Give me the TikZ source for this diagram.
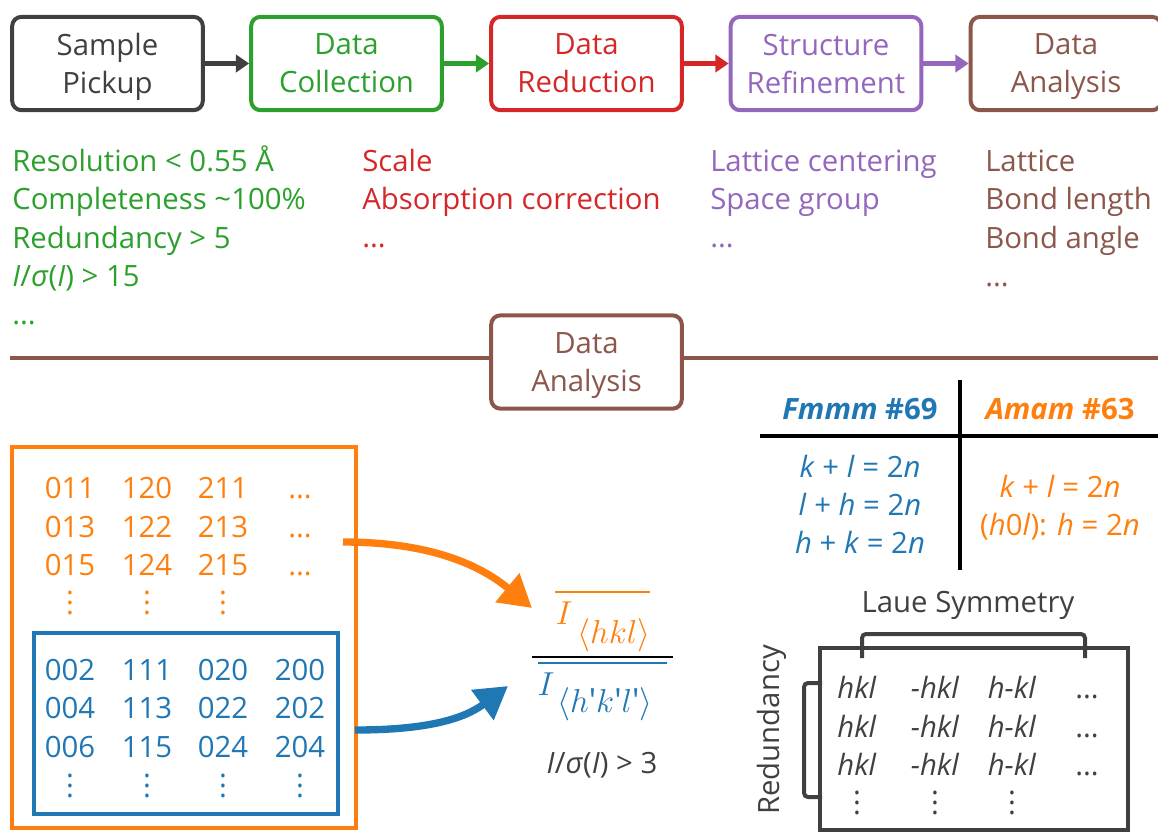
\documentclass[tikz,border=0pt]{standalone}
\usepackage{fontspec}
\setmainfont{Open Sans}
\usetikzlibrary{arrows.meta}
\definecolor{cgray}{HTML}{404040}
\definecolor{cgreen}{HTML}{2CA02C}
\definecolor{cred}{HTML}{D62728}
\definecolor{cpurple}{HTML}{9467BD}
\definecolor{cbrown}{HTML}{8C564B}
\definecolor{corange}{HTML}{FF7F0E}
\definecolor{cblue}{HTML}{1F77B4}
\newcommand\vdts{\vbox{\baselineskip=7.5pt\lineskiplimit=-10pt\hbox{.}\hbox{.}\hbox{.}}}
\tikzset{
  stepbox/.style={draw, line width=3pt, rounded corners=7pt, minimum width=143pt, minimum height=70pt, align=center, inner sep=0pt, text depth=0pt, font=\fontsize{22}{28.5}\selectfont},
  flowarr/.style={line width=3.75pt, -{Triangle[length=10pt,width=13pt]}},
  lst/.style={anchor=base west, inner sep=0pt, font=\fontsize{22}{24}\selectfont},
  num/.style={anchor=base, inner sep=0pt, font=\fontsize{22}{24}\selectfont},
  tbl/.style={anchor=base, inner sep=0pt, font=\fontsize{22}{24}\selectfont},
  dts/.style={anchor=center, inner sep=0pt, font=\fontsize{22}{24}\selectfont},
  bigarr/.style={line width=5.5pt, -{Triangle[length=24pt,width=27pt]}},
}
\begin{document}
\begin{tikzpicture}[x=0.75pt,y=-0.75pt]
\useasboundingbox (0,0) rectangle (1158,833);
% top flow
\node[stepbox, draw=cgray, text=cgray] (sp) at (107.5,63.5) {Sample\\Pickup};
\node[stepbox, draw=cgreen, text=cgreen] (dc) at (346.5,63.5) {Data\\Collection};
\node[stepbox, draw=cred, text=cred] (dr) at (586.5,63.5) {Data\\Reduction};
\node[stepbox, draw=cpurple, text=cpurple] (sr) at (826,63.5) {Structure\\Refinement};
\node[stepbox, draw=cbrown, text=cbrown] (da) at (1066,63.5) {Data\\Analysis};
\draw[flowarr, cgray] (sp.east) -- (dc.west);
\draw[flowarr, cgreen] (dc.east) -- (dr.west);
\draw[flowarr, cred] (dr.east) -- (sr.west);
\draw[flowarr, cpurple] (sr.east) -- (da.west);
% lists
\node[lst, text=cgreen] (g1) at (12,171) {Resolution < 0.55 Å};
\node[lst, text=cgreen] (g2) at (12,209) {Completeness \textasciitilde100\%};
\node[lst, text=cgreen] (g3) at (12,248) {Redundancy > 5};
\node[lst, text=cgreen] (g4) at (12,286) {\textit{I}/\textit{σ}(\textit{I}) > 15};
\node[lst, text=cgreen] (g5) at (12,324) {...};
\node[lst, text=cred] (r1) at (362,171) {Scale};
\node[lst, text=cred] (r2) at (362,209) {Absorption correction};
\node[lst, text=cred] (r3) at (362,247) {...};
\node[lst, text=cpurple] (p1) at (710,171) {Lattice centering};
\node[lst, text=cpurple] (p2) at (710,209) {Space group};
\node[lst, text=cpurple] (p3) at (710,247) {...};
\node[lst, text=cbrown] (b1) at (985,171) {Lattice};
\node[lst, text=cbrown] (b2) at (985,209) {Bond length};
\node[lst, text=cbrown] (b3) at (985,248) {Bond angle};
\node[lst, text=cbrown] (b4) at (985,286) {...};
% divider
\node[stepbox, draw=cbrown, text=cbrown] (da2) at (586.5,362) {Data\\Analysis};
\coordinate (ll) at (10,358);
\coordinate (lr) at (1158,358);
\draw[cbrown, line width=2.5pt] (ll) -- (ll -| da2.west);
\draw[cbrown, line width=2.5pt] (lr -| da2.east) -- (lr);
% hkl boxes
\node[draw=corange, line width=3pt, minimum width=258pt, minimum height=286pt, inner sep=0pt] (obox) at (184,637.5) {};
\node[draw=cblue, line width=3pt, minimum width=228pt, minimum height=136pt, inner sep=0pt] (bbox) at (186,723.5) {};
\node[num, text=corange] (o11) at (70,498) {011};
\node[num, text=corange] (o12) at (147,498) {120};
\node[num, text=corange] (o13) at (223,498) {211};
\node[num, text=corange] (o14) at (300,498) {...};
\node[num, text=corange] (o21) at (70,537) {013};
\node[num, text=corange] (o22) at (147,537) {122};
\node[num, text=corange] (o23) at (223,537) {213};
\node[num, text=corange] (o24) at (300,537) {...};
\node[num, text=corange] (o31) at (70,575) {015};
\node[num, text=corange] (o32) at (147,575) {124};
\node[num, text=corange] (o33) at (223,575) {215};
\node[num, text=corange] (o34) at (300,575) {...};
\node[dts, text=corange] (o41) at (70,603) {\vdts};
\node[dts, text=corange] (o42) at (147,603) {\vdts};
\node[dts, text=corange] (o43) at (223,603) {\vdts};
\node[num, text=cblue] (u11) at (70,680) {002};
\node[num, text=cblue] (u12) at (147,680) {111};
\node[num, text=cblue] (u13) at (223,680) {020};
\node[num, text=cblue] (u14) at (300,680) {200};
\node[num, text=cblue] (u21) at (70,718) {004};
\node[num, text=cblue] (u22) at (147,718) {113};
\node[num, text=cblue] (u23) at (223,718) {022};
\node[num, text=cblue] (u24) at (300,718) {202};
\node[num, text=cblue] (u31) at (70,757) {006};
\node[num, text=cblue] (u32) at (147,757) {115};
\node[num, text=cblue] (u33) at (223,757) {024};
\node[num, text=cblue] (u34) at (300,757) {204};
\node[dts, text=cblue] (u41) at (70,786) {\vdts};
\node[dts, text=cblue] (u42) at (147,786) {\vdts};
\node[dts, text=cblue] (u43) at (223,786) {\vdts};
\node[dts, text=cblue] (u44) at (300,786) {\vdts};
% fraction
\node[inner sep=0pt, text=corange, font=\fontsize{30}{32}\selectfont] (inum) at (564,613) {$I$};
\node[inner sep=0pt, anchor=west, text=corange, font=\fontsize{25}{27}\selectfont] (snum) at (577,635) {$\langle hkl\rangle$};
\node[inner sep=0pt, text=cblue, font=\fontsize{30}{32}\selectfont] (iden) at (546,684) {$I$};
\node[inner sep=0pt, anchor=west, text=cblue, font=\fontsize{25}{27}\selectfont] (sden) at (557,704) {$\langle h\textrm{\textquotesingle}k\textrm{\textquotesingle}l\textrm{\textquotesingle}\rangle$};
\coordinate (ol1) at (555,592);
\coordinate (ol2) at (650,592);
\draw[corange, line width=1.5pt] (ol1) -- (ol2);
\coordinate (fl1) at (532,657);
\coordinate (fl2) at (673,657);
\draw[black, line width=1.8pt] (fl1) -- (fl2);
\coordinate (bl1) at (538,663);
\coordinate (bl2) at (667,663);
\draw[cblue, line width=1.5pt] (bl1) -- (bl2);
\node[tbl, text=cgray] (isig) at (602,773) {\textit{I}/\textit{σ}(\textit{I}) > 3};
% curved arrows
\coordinate (oas) at (343,542);
\coordinate (oae) at (532,608);
\draw[bigarr, corange] (oas) .. controls (430,542) and (480,565) .. (oae);
\coordinate (bas) at (355,730);
\coordinate (bae) at (508,686);
\draw[bigarr, cblue] (bas) .. controls (430,730) and (465,718) .. (bae);
% table
\coordinate (tv1) at (960,380);
\coordinate (tv2) at (960,570);
\coordinate (th1) at (760,436);
\coordinate (th2) at (1158,436);
\draw[black, line width=2.4pt] (tv1) -- (tv2);
\draw[black, line width=2.4pt] (th1) -- (th2);
\node[tbl, text=cblue] (hf) at (860,419) {\textbf{\textit{Fmmm} \#69}};
\node[tbl, text=corange] (ha) at (1060,419) {\textbf{\textit{Amam} \#63}};
\node[tbl, text=cblue] (f1) at (860,477) {\textit{k} + \textit{l} = 2\textit{n}};
\node[tbl, text=cblue] (f2) at (860,515) {\textit{l} + \textit{h} = 2\textit{n}};
\node[tbl, text=cblue] (f3) at (860,553) {\textit{h} + \textit{k} = 2\textit{n}};
\node[tbl, text=corange] (a1) at (1060,497) {\textit{k} + \textit{l} = 2\textit{n}};
\node[tbl, text=corange] (a2) at (1060,535) {(\textit{h}0\textit{l}): \textit{h} = 2\textit{n}};
% Laue
\node[draw=cgray, line width=3pt, minimum width=231pt, minimum height=136.5pt, inner sep=0pt] (lbox) at (974,739) {};
\node[tbl, text=cgray] (laue) at (968,612) {Laue Symmetry};
\node[inner sep=0pt, text=cgray, rotate=90, font=\fontsize{22}{24}\selectfont] (red) at (772,730) {Redundancy};
\coordinate (lb1) at (862,658);
\coordinate (lb2) at (1085,658);
\coordinate (lt) at (0,634);
\draw[cgray, line width=3pt, rounded corners=3pt] (lb1) -- (lb1 |- lt) -- (lb2 |- lt) -- (lb2);
\coordinate (rb1) at (822,683);
\coordinate (rb2) at (822,797);
\coordinate (rl) at (804,0);
\draw[cgray, line width=3pt, rounded corners=3pt] (rb1) -- (rb1 -| rl) -- (rb2 -| rl) -- (rb2);
\node[tbl, text=cgray] (l11) at (857,698) {\textit{hkl}};
\node[tbl, text=cgray] (l12) at (935,698) {\textit{-hkl}};
\node[tbl, text=cgray] (l13) at (1012,698) {\textit{h-kl}};
\node[tbl, text=cgray] (l14) at (1087,698) {...};
\node[tbl, text=cgray] (l21) at (857,737) {\textit{hkl}};
\node[tbl, text=cgray] (l22) at (935,737) {\textit{-hkl}};
\node[tbl, text=cgray] (l23) at (1012,737) {\textit{h-kl}};
\node[tbl, text=cgray] (l24) at (1087,737) {...};
\node[tbl, text=cgray] (l31) at (857,775) {\textit{hkl}};
\node[tbl, text=cgray] (l32) at (935,775) {\textit{-hkl}};
\node[tbl, text=cgray] (l33) at (1012,775) {\textit{h-kl}};
\node[tbl, text=cgray] (l34) at (1087,775) {...};
\node[dts, text=cgray] (l41) at (857,803) {\vdts};
\node[dts, text=cgray] (l42) at (935,803) {\vdts};
\node[dts, text=cgray] (l43) at (1012,803) {\vdts};
\end{tikzpicture}
\end{document}
